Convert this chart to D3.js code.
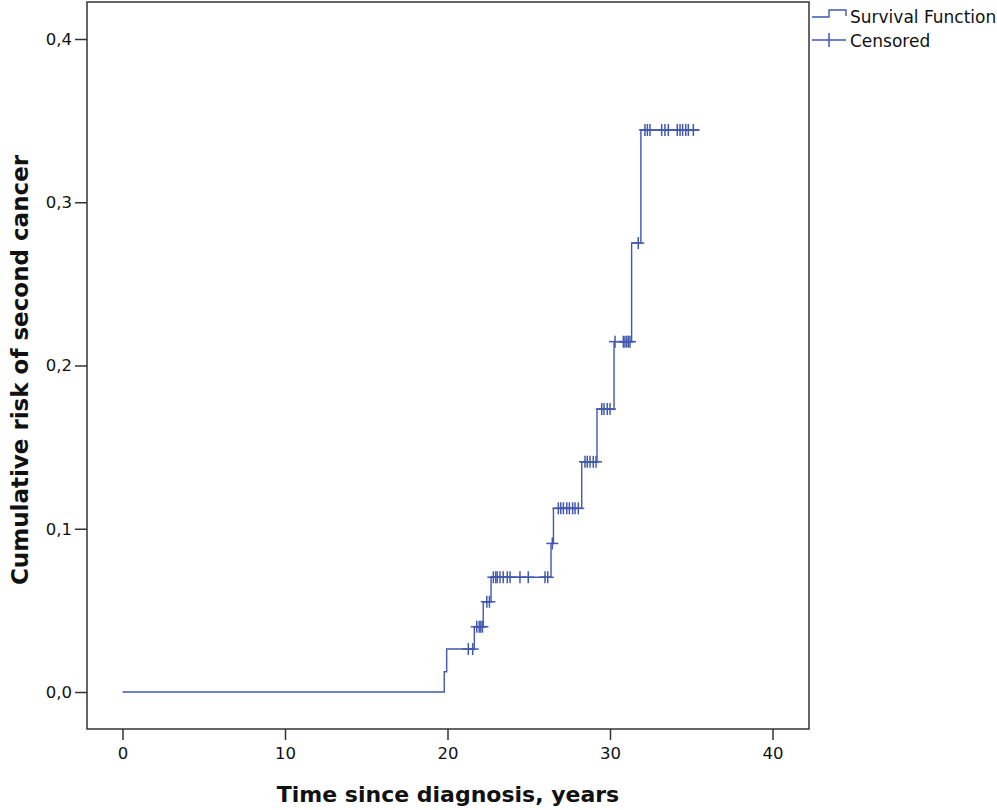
<!DOCTYPE html>
<html>
<head>
<meta charset="utf-8">
<script src="https://cdn.jsdelivr.net/npm/d3@7"></script>
<style>
body{margin:0;background:#fff;}
text{font-family:"DejaVu Sans",Verdana,sans-serif;fill:#111;}
.frame{fill:none;stroke:#333;stroke-width:1.5;}
.surv{fill:none;stroke:#4258b0;stroke-width:1.4;}
.cens{stroke:#4258b0;stroke-width:1.5;}
</style>
</head>
<body>
<script>
// event times (years) and cumulative risk after each event
var eventTimes=[0,19.8,19.95,21.65,22.2,22.68,26.37,26.52,28.26,29.2,30.25,31.33,31.9];
var eventRisk=[0,0.0124,0.0263,0.040,0.0553,0.0703,0.091,0.1125,0.141,0.1733,0.2146,0.275,0.3443];
var lastTime=35.5;
// censored observation times
var censTimes=[21.28,21.55,21.8,21.95,22.05,22.15,22.42,22.58,
	22.82,22.97,23.06,23.23,23.43,23.68,23.85,24.46,24.97,26.0,26.17,26.45,
	26.82,26.97,27.13,27.34,27.5,27.7,27.85,28.05,
	28.46,28.6,28.77,28.97,29.14,29.49,29.63,29.83,30.0,
	30.31,30.82,30.92,31.03,31.13,31.23,31.74,
	32.15,32.3,32.46,33.18,33.38,33.59,34.14,34.31,34.47,34.66,34.82,35.13];
var xTicks=[0,10,20,30,40];
var yTicks=[0,0.1,0.2,0.3,0.4];
var legendLabels=["Survival Function","Censored"];

var width=997, height=810;
var plotLeft=87, plotRight=809, plotTop=2, plotBottom=729;

var x=d3.scaleLinear().domain([0,40]).range([122.5,772.5]);
var y=d3.scaleLinear().domain([0,0.4]).range([692,39]);

var svg=d3.select("body").append("svg").attr("width",width).attr("height",height);

svg.append("rect").
	attr("x",plotLeft).attr("y",plotTop).
	attr("width",plotRight-plotLeft).attr("height",plotBottom-plotTop).
	classed("frame",true);

// axes
var xAxis=svg.append("g").attr("transform","translate(0,"+plotBottom+")").
	call(d3.axisBottom(x).tickValues(xTicks).tickSize(11).tickPadding(7).tickFormat(d3.format("d")));
var yAxis=svg.append("g").attr("transform","translate("+plotLeft+",0)").
	call(d3.axisLeft(y).tickValues(yTicks).tickSize(12).tickPadding(3).tickFormat(function(d) {
		return d3.format(".1f")(d).replace(".",",");
	}));
[xAxis,yAxis].forEach(function(a) {
	a.select(".domain").remove();
	a.selectAll("line").attr("stroke","#333").attr("stroke-width",1.5);
	a.selectAll("text").style("font-size","16.5px").attr("fill","#111").
		style("font-family","'DejaVu Sans',Verdana,sans-serif");
});

// survival step line
var pts=eventTimes.map(function(t,i) {return [t,eventRisk[i]];});
pts.push([lastTime,eventRisk[eventRisk.length-1]]);
var line=d3.line().x(function(d) {return x(d[0]);}).y(function(d) {return y(d[1]);}).curve(d3.curveStepAfter);
svg.append("path").datum(pts).attr("d",line).classed("surv",true);

// censor marks
function riskAt(t) {
	var i=d3.bisectRight(eventTimes,t)-1;
	return eventRisk[Math.max(i,0)];
}
var marks=svg.selectAll(".mark").data(censTimes).enter().append("g").
	attr("transform",function(d) {return "translate("+x(d)+","+y(riskAt(d))+")";});
marks.append("line").attr("x1",0).attr("x2",0).attr("y1",-6).attr("y2",6).classed("cens",true);
marks.append("line").attr("x1",-6).attr("x2",6).attr("y1",0).attr("y2",0).classed("cens",true);

// axis titles
svg.append("text").attr("x",448).attr("y",802).attr("text-anchor","middle").
	style("font-size","22px").style("font-weight","bold").text("Time since diagnosis, years");
svg.append("text").attr("transform","translate(28,370) rotate(-90)").attr("text-anchor","middle").
	style("font-size","23px").style("font-weight","bold").text("Cumulative risk of second cancer");

// legend
var lg=svg.append("g");
lg.append("path").attr("d","M812,17H829V10H846V16").classed("surv",true);
lg.append("line").attr("x1",812).attr("x2",846).attr("y1",40).attr("y2",40).classed("cens",true);
lg.append("line").attr("x1",829).attr("x2",829).attr("y1",33).attr("y2",47).classed("cens",true);
lg.selectAll("text").data(legendLabels).enter().append("text").
	attr("x",850).attr("y",function(d,i) {return 17+i*24;}).attr("dy","0.35em").
	style("font-size","17px").text(function(d) {return d;});
</script>
</body>
</html>
